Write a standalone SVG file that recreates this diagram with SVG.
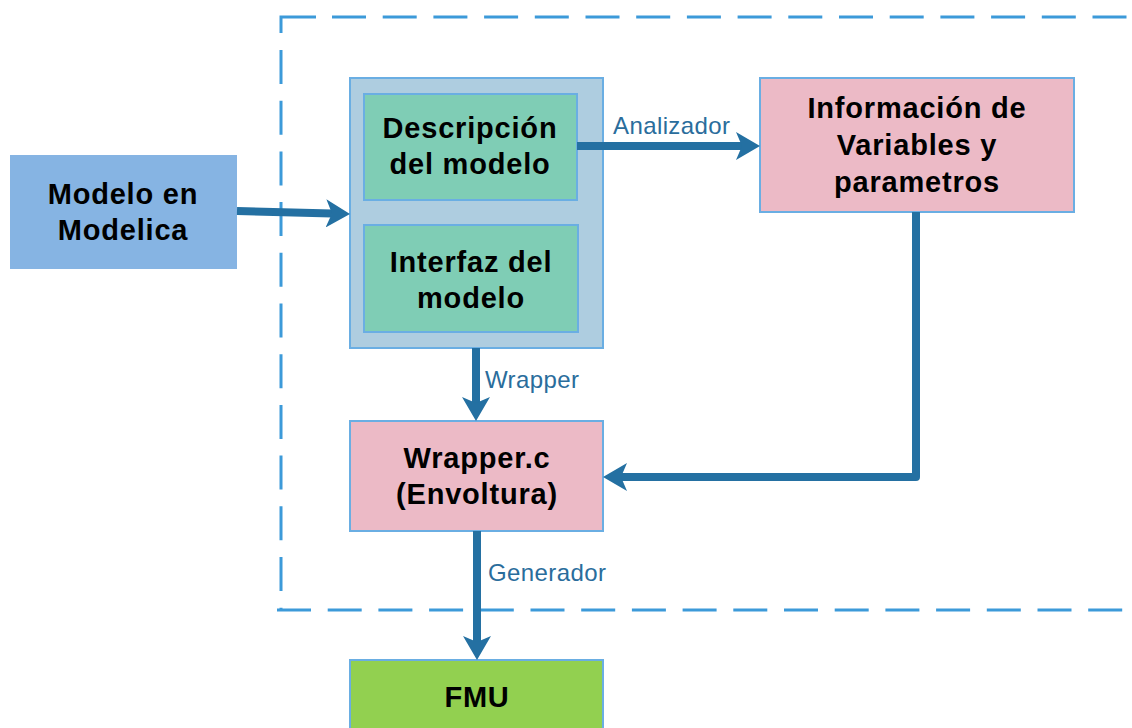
<svg xmlns="http://www.w3.org/2000/svg" width="1132" height="728" viewBox="0 0 1132 728">
  <style>
    .box { stroke: #6aaee3; stroke-width: 2; }
    .title { font-family: "Liberation Sans", Arial, sans-serif; font-weight: bold; font-size: 29px; letter-spacing: 0.8px; fill: #000; text-anchor: middle; }
    .lbl { font-family: "Liberation Sans", Arial, sans-serif; font-size: 24px; letter-spacing: 0.4px; fill: #2a6d9c; }
    .conn { fill: none; stroke: #2470a2; stroke-width: 8; stroke-linejoin: round; }
    .frame { fill: none; stroke: #3c9ad9; stroke-width: 3; stroke-dasharray: 34 16.7; }
  </style>
  <defs>
    <marker id="head" markerUnits="userSpaceOnUse" markerWidth="24" markerHeight="28" viewBox="0 0 24 28" refX="6" refY="14" orient="auto">
      <path d="M0,0 L24,14 L0,28 L6,14 Z" fill="#2470a2"/>
    </marker>
  </defs>
  <rect width="1132" height="728" fill="#fff"/>

  <!-- dashed boundary -->
  <g id="boundary">
    <path d="M281,33 V17 H316" fill="none" stroke="#3c9ad9" stroke-width="3"/>
    <path class="frame" d="M332,17 H1132"/>
    <path class="frame" d="M281,50 V610"/>
    <path class="frame" d="M277,610 H1132"/>
  </g>

  <g id="modelo">
    <rect x="10" y="155" width="227" height="114" fill="#86b4e3"/>
    <text class="title" x="123" y="204" letter-spacing="1">Modelo en</text>
    <text class="title" x="123" y="240" letter-spacing="1">Modelica</text>
  </g>

  <g id="contenedor">
    <rect class="box" x="350" y="78" width="253" height="270" fill="#aecde0"/>
  </g>

  <g id="descripcion">
    <rect class="box" x="364" y="94" width="213" height="106" fill="#7fcdb5" stroke="#84b6e5"/>
    <text class="title" x="470" y="138">Descripción</text>
    <text class="title" x="470" y="174">del modelo</text>
  </g>

  <g id="interfaz">
    <rect class="box" x="364" y="225" width="214" height="107" fill="#7fcdb5"/>
    <text class="title" x="471" y="272">Interfaz del</text>
    <text class="title" x="471" y="308">modelo</text>
  </g>

  <g id="informacion">
    <rect class="box" x="760" y="78" width="314" height="134" fill="#ecbac6"/>
    <text class="title" x="917" y="118">Información de</text>
    <text class="title" x="917" y="155">Variables y</text>
    <text class="title" x="917" y="192">parametros</text>
  </g>

  <g id="wrapper">
    <rect class="box" x="350" y="421" width="253" height="110" fill="#ecbac6"/>
    <text class="title" x="477" y="468">Wrapper.c</text>
    <text class="title" x="477" y="504">(Envoltura)</text>
  </g>

  <g id="fmu">
    <rect class="box" x="350" y="660" width="253" height="80" fill="#92d050"/>
    <text class="title" x="477" y="707">FMU</text>
  </g>

  <g id="connectors">
    <path class="conn" d="M237,211 L332,213.5" marker-end="url(#head)"/>
    <path class="conn" d="M577,146 H742" marker-end="url(#head)"/>
    <path class="conn" d="M476,348 V403" marker-end="url(#head)"/>
    <path class="conn" d="M916,212 V477 H621" marker-end="url(#head)"/>
    <path class="conn" d="M477,531 V642" marker-end="url(#head)"/>
    <text class="lbl" x="613" y="134">Analizador</text>
    <text class="lbl" x="485" y="388">Wrapper</text>
    <text class="lbl" x="488" y="581">Generador</text>
  </g>
</svg>
